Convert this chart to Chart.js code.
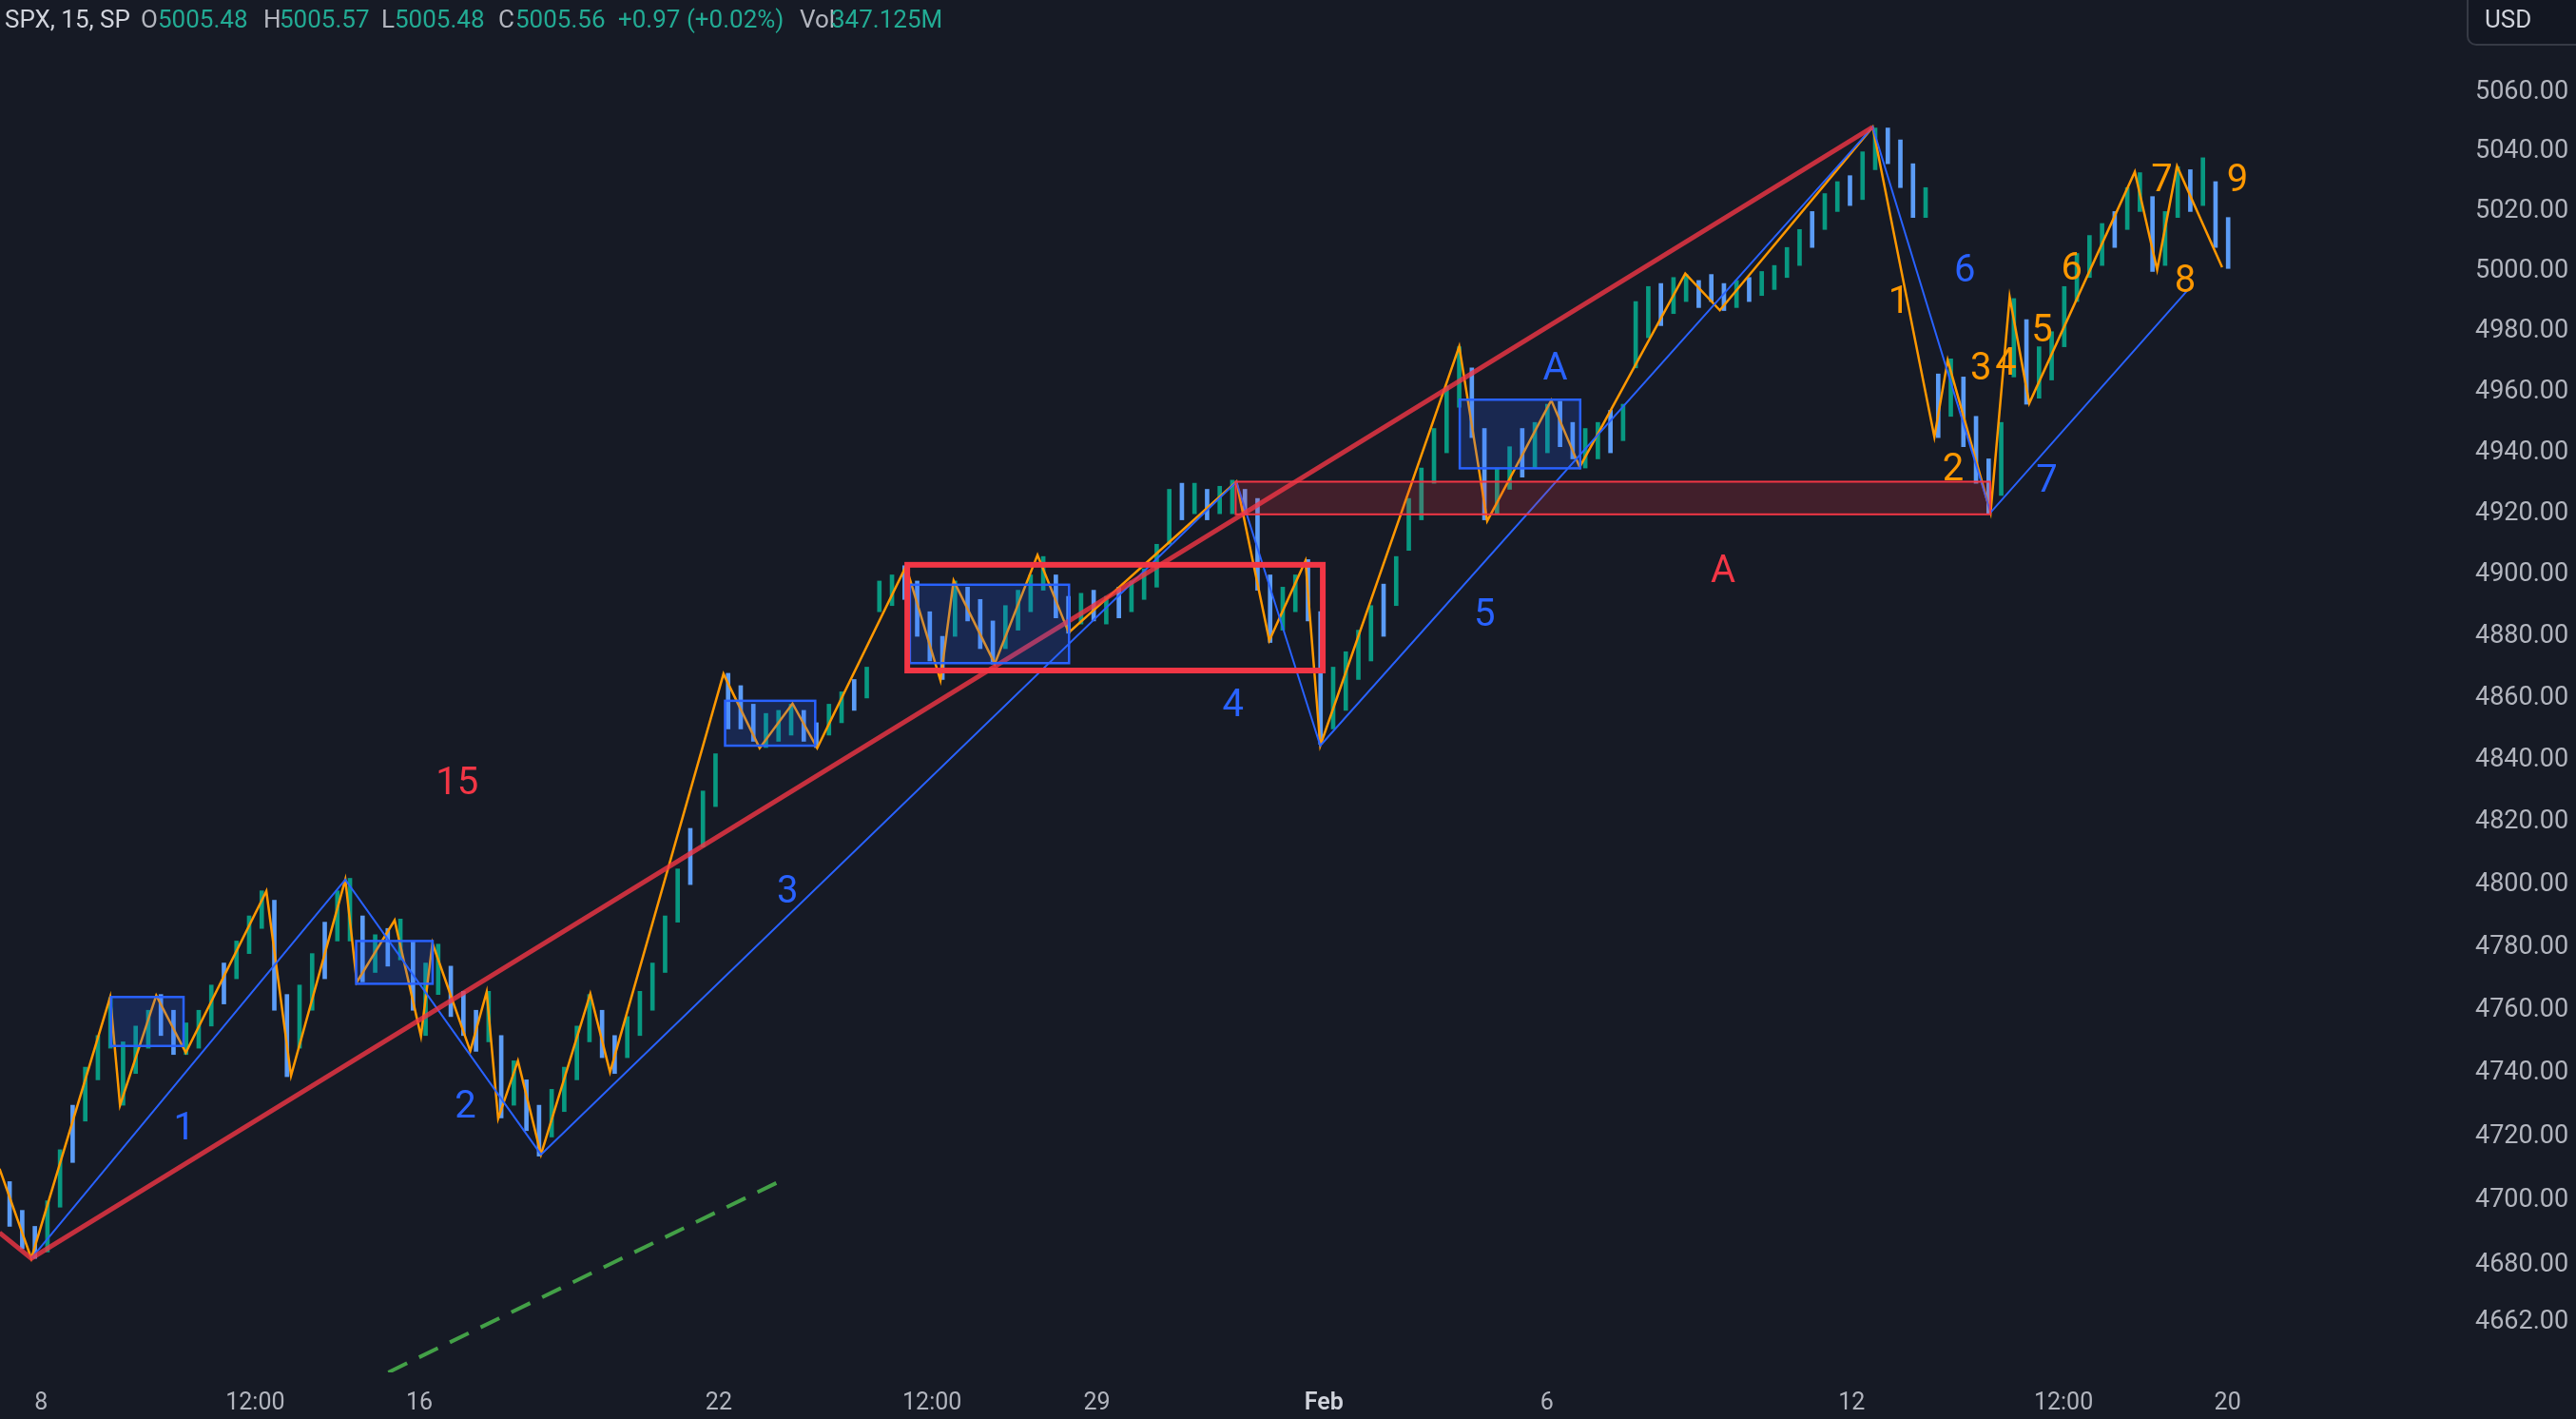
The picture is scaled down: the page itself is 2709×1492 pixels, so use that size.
<!DOCTYPE html>
<html>
<head>
<meta charset="utf-8">
<script src="https://cdn.jsdelivr.net/npm/chart.js@4.4.1/dist/chart.umd.min.js"></script>
<style>
  html, body { margin: 0; padding: 0; background: #161a25; }
  #wrap { width: 2709px; height: 1492px; position: relative; }
</style>
</head>
<body>
<div id="wrap"><canvas id="chart"></canvas></div>
<script>
// SPX 15m — wave count sketch (x = trading days counted from Jan 8)
const FONT = 'Roboto, "Noto Sans", Arial, sans-serif';
const UP = '#089981', DOWN = '#5b9cf6';

const xTickPos    = [0, 2.83, 5, 8.96, 11.78, 13.96, 16.96, 19.91, 23.94, 26.74, 28.91];
const xTickLabels = ['8', '12:00', '16', '22', '12:00', '29', 'Feb', '6', '12', '12:00', '20'];
const yTickValues = [4662, 4680, 4700, 4720, 4740, 4760, 4780, 4800, 4820, 4840, 4860, 4880,
                     4900, 4920, 4940, 4960, 4980, 5000, 5020, 5040, 5060];

// price bars, 6 per day, first one = last part of Jan 5
const barFirstX = -0.5 + 1 / 12;
const barStep = 1 / 6;
const barLows = [
  4692, 4685, 4682,                       // Jan 5
  4684, 4698, 4712, 4725, 4738, 4748,     // 8
  4730, 4740, 4748, 4752, 4746, 4746,     // 9
  4748, 4755, 4762, 4770, 4778, 4786,     // 10
  4760, 4739, 4748, 4760, 4770, 4782,     // 11
  4782, 4769, 4772, 4774, 4776, 4760,     // 12
  4752, 4765, 4758, 4752, 4747, 4750,     // 16
  4726, 4730, 4722, 4714, 4720, 4728,     // 17
  4738, 4750, 4745, 4740, 4745, 4752,     // 18
  4760, 4772, 4788, 4800, 4812, 4825,     // 19
  4850, 4850, 4846, 4844, 4846, 4848,     // 22
  4846, 4844, 4848, 4852, 4856, 4860,     // 23
  4888, 4890, 4892, 4880, 4872, 4866,     // 24
  4880, 4885, 4876, 4871, 4876, 4882,     // 25
  4888, 4895, 4886, 4881, 4884, 4885,     // 26
  4884, 4886, 4888, 4892, 4896, 4910,     // 29
  4918, 4920, 4918, 4920, 4920, 4920,     // 30
  4895, 4878, 4882, 4888, 4885, 4845,     // 31
  4850, 4856, 4866, 4872, 4880, 4890,     // Feb 1
  4908, 4918, 4930, 4940, 4955, 4945,     // 2
  4918, 4920, 4928, 4932, 4935, 4940,     // 5
  4942, 4938, 4935, 4938, 4940, 4944,     // 6
  4968, 4978, 4982, 4986, 4990, 4988,     // 7
  4990, 4987, 4988, 4990, 4992, 4994,     // 8
  4998, 5002, 5008, 5014, 5020, 5022,     // 9
  5024, 5034, 5036, 5028, 5018, 5018,     // 12
  4945, 4952, 4942, 4930, 4920, 4926,     // 13
  4965, 4956, 4958, 4964, 4975, 4990,     // 14
  4998, 5002, 5008, 5014, 5020, 5000,     // 15
  5002, 5018, 5020, 5022, 5008, 5001      // 16
];
const barHighs = [
  4706, 4697, 4692,
  4700, 4716, 4730, 4742, 4752, 4764,
  4750, 4755, 4760, 4765, 4760, 4756,
  4760, 4768, 4775, 4782, 4790, 4798,
  4795, 4765, 4768, 4778, 4788, 4798,
  4802, 4790, 4784, 4786, 4789, 4782,
  4775, 4781, 4774, 4766, 4760, 4766,
  4752, 4744, 4738, 4730, 4735, 4742,
  4755, 4765, 4760, 4752, 4758, 4766,
  4775, 4790, 4805, 4818, 4830, 4842,
  4868, 4864, 4858, 4855, 4856, 4858,
  4856, 4852, 4858, 4862, 4866, 4870,
  4898, 4900, 4903, 4898, 4888, 4880,
  4898, 4896, 4892, 4885, 4890, 4895,
  4900, 4906, 4900, 4893, 4894, 4895,
  4893, 4896, 4898, 4902, 4910, 4928,
  4930, 4930, 4928, 4929, 4931, 4928,
  4925, 4900, 4896, 4900, 4905, 4888,
  4870, 4875, 4882, 4890, 4897, 4906,
  4925, 4935, 4948, 4962, 4975, 4968,
  4948, 4935, 4942, 4948, 4950, 4956,
  4957, 4950, 4948, 4950, 4954, 4956,
  4990, 4995, 4996, 4998, 4999, 4997,
  4999, 4996, 4997, 4998, 5000, 5002,
  5008, 5014, 5020, 5026, 5030, 5032,
  5040, 5048, 5048, 5044, 5036, 5028,
  4966, 4971, 4965, 4952, 4938, 4950,
  4991, 4984, 4975, 4980, 4995, 5006,
  5012, 5016, 5020, 5028, 5033, 5025,
  5020, 5035, 5034, 5038, 5030, 5018
];
const barDirs = 'ddd' + 'uuduuu' + 'uuuddu' + 'uuduuu' + 'dduudu' + 'ududud' +
  'uudddu' + 'duddu' + 'u' + 'uuddu' + 'u' + 'uuudu' + 'u' + 'dddu' + 'uu' + 'dduudu' +
  'uudddd' + 'udddu' + 'u' + 'uuddud' + 'uduuuu' + 'dudu' + 'ud' + 'dduudd' + 'uuuudu' +
  'uuuuud' + 'duudu' + 'u' + 'dduudu' + 'uuduud' + 'ddudu' + 'u' + 'uuduud' + 'uudddu' +
  'duddd' + 'u' + 'uduuuu' + 'uuduud' + 'uududd';

// zigzag (orange) pivots
const zigX = [-0.55, -0.13, 0.913, 1.043, 1.522, 1.913, 2.978, 3.304, 4.022, 4.174, 4.674, 5.022,
  5.174, 5.674, 5.891, 6.043, 6.304, 6.609, 7.261, 7.522, 9.022, 9.5, 9.935, 10.261, 11.435,
  11.891, 12.065, 12.609, 13.174, 13.587, 15.804, 16.239, 16.717, 16.913, 18.75, 19.12, 19.967,
  20.343, 21.739, 22.196, 24.217, 25.033, 25.209, 25.776, 26.028, 26.287, 27.683, 27.978, 28.241, 28.837];
const zigY = [4710, 4682, 4764.2, 4730, 4764.7, 4746.6, 4797.9, 4739.3, 4801.6, 4768.9, 4788.6, 4751.8,
  4781.3, 4747.1, 4765.8, 4725.8, 4744, 4714.5, 4765.2, 4740.4, 4867.8, 4843.8, 4858.2, 4843.8, 4902.8,
  4865.7, 4898.1, 4871.1, 4906.5, 4881.2, 4930.5, 4878.6, 4904.6, 4844.6, 4975.1, 4917.6, 4957.3,
  4935.3, 4999.3, 4987.1, 5048.3, 4945.2, 4970.6, 4920.4, 4991.5, 4956.3, 5033.3, 5000.6, 5035.2, 5001.4];

// blue wave line
const waveX = [-0.13, 4.022, 6.609, 15.804, 16.913, 24.217, 25.776, 28.42];
const waveY = [4682, 4801.6, 4714.5, 4930.5, 4844.6, 5048.3, 4920.4, 4994.9];

// red trend line and green dashed line
const trendX = [-0.55, -0.13, 24.217];
const trendY = [4690, 4682, 5048.3];
const greenX = [3.37, 9.783];
const greenY = [4632.7, 4706.3];

// boxes: [xFrom, xTo, low, high]
const blueBoxes = [
  [0.924, 1.883, 4748.7, 4764.2],
  [4.165, 5.176, 4768.4, 4782.0],
  [9.043, 10.235, 4844.6, 4859.1],
  [11.487, 13.591, 4871.3, 4896.8],
  [18.757, 20.35, 4934.9, 4957.5]
];
const redBox = [11.452, 16.946, 4868.9, 4903.3];
const redZone = [15.794, 25.772, 4919.8, 4930.5];

// text marks
const labelText  = ['1', '2', '3', '4', '5', '6', '7', 'A', '15', 'A', '1', '2', '3', '4', '5', '6', '7', '8', '9'];
const labelX     = [1.891, 5.609, 9.87, 15.76, 19.087, 25.435, 26.52, 20.02, 5.5, 22.24,
                    24.565, 25.28, 25.65, 25.98, 26.457, 26.848, 28.04, 28.35, 29.04];
const labelY     = [4722.2, 4729.0, 4797.4, 4857.1, 4886.5, 4999.8, 4930.4, 4967.3, 4832.2, 4900.7,
                    4989.5, 4934.2, 4967.2, 4968.8, 4979.8, 5000.4, 5030.1, 4996.4, 5030.1];
const labelColor = ['b', 'b', 'b', 'b', 'b', 'b', 'b', 'b', 'r', 'r', 'o', 'o', 'o', 'o', 'o', 'o', 'o', 'o', 'o'];
const COLORS = { b: '#2962ff', r: '#f23645', o: '#ff9800' };

const header = [
  ['SPX, 15, SP', '#d1d4dc', 5], ['O', '#b2b5be', 148], ['5005.48', '#22ab94', 166],
  ['H', '#b2b5be', 277], ['5005.57', '#22ab94', 294], ['L', '#b2b5be', 401], ['5005.48', '#22ab94', 415],
  ['C', '#b2b5be', 524], ['5005.56', '#22ab94', 542], ['+0.97 (+0.02%)', '#22ab94', 650],
  ['Vol', '#b2b5be', 841], ['347.125M', '#22ab94', 874]
];

const pts = (xs, ys) => xs.map((x, i) => ({ x, y: ys[i] }));
const bars = barLows.map((lo, i) => ({ x: barFirstX + i * barStep, y: [lo, barHighs[i]] }));

const overlay = {
  id: 'overlay',
  afterDatasetsDraw(chart) {
    const { ctx, chartArea: a, scales: { x, y } } = chart;
    ctx.save();
    ctx.beginPath(); ctx.rect(a.left, a.top, a.right - a.left, a.bottom - a.top); ctx.clip();
    const rect = (b, fill, stroke, lw) => {
      const x0 = x.getPixelForValue(b[0]), x1 = x.getPixelForValue(b[1]);
      const y0 = y.getPixelForValue(b[3]), y1 = y.getPixelForValue(b[2]);
      if (fill) { ctx.fillStyle = fill; ctx.fillRect(x0, y0, x1 - x0, y1 - y0); }
      ctx.strokeStyle = stroke; ctx.lineWidth = lw;
      ctx.strokeRect(x0, y0, x1 - x0, y1 - y0);
    };
    rect(redZone, 'rgba(242,54,69,0.2)', '#f23645', 2);
    blueBoxes.forEach(b => rect(b, 'rgba(41,98,255,0.2)', '#2962ff', 2.5));
    rect(redBox, null, '#f23645', 6);
    ctx.font = '40px ' + FONT;
    ctx.textAlign = 'center'; ctx.textBaseline = 'middle';
    labelText.forEach((t, i) => {
      ctx.fillStyle = COLORS[labelColor[i]];
      ctx.fillText(t, x.getPixelForValue(labelX[i]), y.getPixelForValue(labelY[i]));
    });
    ctx.restore();
  },
  afterDraw(chart) {
    const ctx = chart.ctx;
    ctx.save();
    ctx.font = '26px ' + FONT;
    ctx.textBaseline = 'middle'; ctx.textAlign = 'left';
    header.forEach(([t, c, px]) => { ctx.fillStyle = c; ctx.fillText(t, px, 22); });
    // currency box
    ctx.fillStyle = '#131722'; ctx.strokeStyle = '#363a45'; ctx.lineWidth = 2;
    ctx.beginPath(); ctx.roundRect(2595, -12, 130, 59, 9); ctx.fill(); ctx.stroke();
    ctx.fillStyle = '#d1d4dc';
    ctx.fillText('USD', 2613, 22);
    ctx.restore();
  }
};

new Chart(document.getElementById('chart'), {
  data: {
    datasets: [
      { type: 'bar', data: bars, barThickness: 4,
        backgroundColor: c => barDirs[c.dataIndex] === 'u' ? UP : DOWN, order: 10 },
      { type: 'line', data: pts(zigX, zigY), borderColor: '#ff9800', borderWidth: 2.5,
        pointRadius: 0, tension: 0, order: 6 },
      { type: 'line', data: pts(waveX, waveY), borderColor: '#2962ff', borderWidth: 2,
        pointRadius: 0, tension: 0, order: 5 },
      { type: 'line', data: pts(trendX, trendY), borderColor: 'rgba(242,54,69,0.8)', borderWidth: 5,
        pointRadius: 0, tension: 0, order: 4 },
      { type: 'line', data: pts(greenX, greenY), borderColor: '#43a047', borderWidth: 4,
        borderDash: [22, 14], pointRadius: 0, tension: 0, order: 3 }
    ]
  },
  options: {
    animation: false, responsive: true, maintainAspectRatio: false, devicePixelRatio: 1,
    layout: { padding: 0 },
    plugins: { legend: { display: false }, tooltip: { enabled: false } },
    scales: {
      x: {
        type: 'linear', min: -0.544, max: 32.02, offset: false,
        grid: { display: false, drawTicks: false }, border: { display: false },
        afterBuildTicks: s => { s.ticks = xTickPos.map(v => ({ value: v })); },
        afterFit: s => { s.height = 49; s.paddingLeft = 0; s.paddingRight = 0; },
        ticks: {
          autoSkip: false, maxRotation: 0, padding: 18,
          callback: (v, i) => xTickLabels[i],
          color: c => xTickLabels[c.index] === 'Feb' ? '#d1d4dc' : '#b2b5be',
          font: c => ({ family: FONT, size: 25, weight: xTickLabels[c.index] === 'Feb' ? '600' : '400' })
        }
      },
      y: {
        type: 'logarithmic', position: 'right', min: 4646.6, max: 5091.2,
        grid: { display: false, drawTicks: false }, border: { display: false },
        afterBuildTicks: s => { s.ticks = yTickValues.map(v => ({ value: v })); },
        afterFit: s => { s.width = 119; s.paddingTop = 0; s.paddingBottom = 0; },
        ticks: {
          autoSkip: false, padding: 13, color: '#b2b5be',
          font: { family: FONT, size: 27 },
          callback: v => Number(v).toFixed(2)
        }
      }
    }
  },
  plugins: [overlay]
});
</script>
</body>
</html>
